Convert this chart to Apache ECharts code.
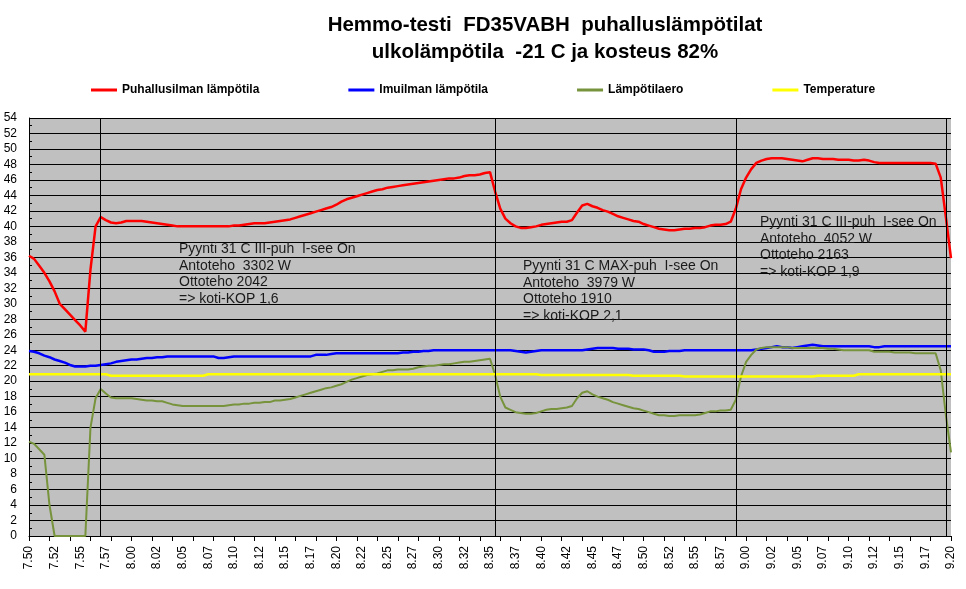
<!DOCTYPE html>
<html>
<head>
<meta charset="utf-8">
<script src="https://cdn.jsdelivr.net/npm/echarts@6/dist/echarts.min.js"></script>
<style>
  html, body { margin: 0; padding: 0; background: #fff; }
  #main { width: 966px; height: 589px; }
</style>
</head>
<body>
<div id="main"></div>
<script>
// x axis: one point every 30 s from 7.50 to 9.20
var tickLabels = ['7.50', '7.52', '7.55', '7.57', '8.00', '8.02', '8.05', '8.07', '8.10', '8.12',
    '8.15', '8.17', '8.20', '8.22', '8.25', '8.27', '8.30', '8.32', '8.35', '8.37',
    '8.40', '8.42', '8.45', '8.47', '8.50', '8.52', '8.55', '8.57', '9.00', '9.02',
    '9.05', '9.07', '9.10', '9.12', '9.15', '9.17', '9.20'];

var categories = [];
for (var i = 0; i < 181; i++) {
    var sec = 7 * 3600 + 50 * 60 + i * 30;
    var h = Math.floor(sec / 3600), m = Math.floor(sec / 60) % 60, s = sec % 60;
    categories.push(h + ':' + (m < 10 ? '0' : '') + m + ':' + (s ? '30' : '00'));
}

var puhallus = [
    36.2, 35.8, 34.9, 34.0, 32.9, 31.6, 30.0, 29.3, 28.6, 27.9,
    27.2, 26.4, 34.4, 40.0, 41.2, 40.8, 40.5, 40.4, 40.5, 40.7,
    40.7, 40.7, 40.7, 40.6, 40.5, 40.4, 40.3, 40.2, 40.1, 40.0,
    40.0, 40.0, 40.0, 40.0, 40.0, 40.0, 40.0, 40.0, 40.0, 40.0,
    40.1, 40.1, 40.2, 40.3, 40.4, 40.4, 40.4, 40.5, 40.6, 40.7,
    40.8, 40.9, 41.1, 41.3, 41.5, 41.7, 41.9, 42.1, 42.3, 42.5,
    42.8, 43.2, 43.5, 43.7, 43.9, 44.1, 44.3, 44.5, 44.7, 44.8,
    45.0, 45.1, 45.2, 45.3, 45.4, 45.5, 45.6, 45.7, 45.8, 45.9,
    46.0, 46.1, 46.2, 46.2, 46.3, 46.5, 46.6, 46.6, 46.7, 46.9,
    47.0, 44.5, 42.3, 41.0, 40.4, 40.0, 39.8, 39.8, 39.9, 40.0,
    40.2, 40.3, 40.4, 40.5, 40.6, 40.6, 40.8, 41.8, 42.7, 42.9,
    42.6, 42.4, 42.1, 41.9, 41.6, 41.3, 41.1, 40.9, 40.7, 40.6,
    40.3, 40.1, 39.9, 39.7, 39.6, 39.5, 39.5, 39.6, 39.7, 39.7,
    39.8, 39.8, 39.9, 40.1, 40.2, 40.2, 40.3, 40.6, 42.3, 44.8,
    46.3, 47.4, 48.2, 48.5, 48.7, 48.8, 48.8, 48.8, 48.7, 48.6,
    48.5, 48.4, 48.6, 48.8, 48.8, 48.7, 48.7, 48.7, 48.6, 48.6,
    48.6, 48.5, 48.5, 48.6, 48.5, 48.3, 48.2, 48.2, 48.2, 48.2,
    48.2, 48.2, 48.2, 48.2, 48.2, 48.2, 48.2, 48.1, 46.3, 41.2,
    35.9
];

var imuilma = [
    23.9, 23.8, 23.6, 23.3, 23.1, 22.8, 22.6, 22.4, 22.1, 21.9,
    21.9, 21.9, 22.0, 22.0, 22.1, 22.2, 22.3, 22.5, 22.6, 22.7,
    22.8, 22.8, 22.9, 23.0, 23.0, 23.1, 23.1, 23.2, 23.2, 23.2,
    23.2, 23.2, 23.2, 23.2, 23.2, 23.2, 23.2, 23.0, 23.0, 23.1,
    23.2, 23.2, 23.2, 23.2, 23.2, 23.2, 23.2, 23.2, 23.2, 23.2,
    23.2, 23.2, 23.2, 23.2, 23.2, 23.2, 23.4, 23.4, 23.4, 23.5,
    23.6, 23.6, 23.6, 23.6, 23.6, 23.6, 23.6, 23.6, 23.6, 23.6,
    23.6, 23.6, 23.6, 23.7, 23.7, 23.8, 23.8, 23.9, 23.9, 24.0,
    24.0, 24.0, 24.0, 24.0, 24.0, 24.0, 24.0, 24.0, 24.0, 24.0,
    24.0, 24.0, 24.0, 24.0, 24.0, 23.9, 23.8, 23.7, 23.8, 23.9,
    24.0, 24.0, 24.0, 24.0, 24.0, 24.0, 24.0, 24.0, 24.0, 24.1,
    24.2, 24.3, 24.3, 24.3, 24.3, 24.2, 24.2, 24.2, 24.1, 24.1,
    24.1, 24.0, 23.8, 23.8, 23.8, 23.9, 23.9, 23.9, 24.0, 24.0,
    24.0, 24.0, 24.0, 24.0, 24.0, 24.0, 24.0, 24.0, 24.0, 24.0,
    24.0, 24.0, 24.1, 24.2, 24.3, 24.4, 24.5, 24.4, 24.4, 24.3,
    24.4, 24.5, 24.6, 24.7, 24.6, 24.5, 24.5, 24.5, 24.5, 24.5,
    24.5, 24.5, 24.5, 24.5, 24.5, 24.4, 24.4, 24.5, 24.5, 24.5,
    24.5, 24.5, 24.5, 24.5, 24.5, 24.5, 24.5, 24.5, 24.5, 24.5,
    24.5
];

var lampotilaero = [
    12.2, 11.9, 11.2, 10.5, 4.0, 0, 0, 0, 0, 0,
    0, 0, 14.0, 17.8, 19.0, 18.4, 17.9, 17.8, 17.8, 17.8,
    17.8, 17.7, 17.6, 17.5, 17.5, 17.4, 17.4, 17.2, 17.0, 16.9,
    16.8, 16.8, 16.8, 16.8, 16.8, 16.8, 16.8, 16.8, 16.8, 16.9,
    17.0, 17.0, 17.1, 17.1, 17.2, 17.2, 17.3, 17.3, 17.5, 17.5,
    17.6, 17.7, 17.9, 18.1, 18.3, 18.5, 18.7, 18.9, 19.1, 19.2,
    19.4, 19.6, 19.9, 20.2, 20.4, 20.6, 20.8, 20.9, 21.0, 21.2,
    21.4, 21.4, 21.5, 21.5, 21.5, 21.6, 21.8, 21.9, 22.0, 22.0,
    22.1, 22.2, 22.2, 22.3, 22.4, 22.5, 22.5, 22.6, 22.7, 22.8,
    22.9, 20.8, 18.0, 16.6, 16.3, 16.0, 15.9, 15.8, 15.8, 15.9,
    16.1, 16.3, 16.4, 16.4, 16.5, 16.6, 16.8, 17.8, 18.5, 18.7,
    18.3, 18.0, 17.8, 17.6, 17.3, 17.1, 16.9, 16.7, 16.5, 16.4,
    16.2, 16.0, 15.8, 15.6, 15.6, 15.5, 15.5, 15.6, 15.6, 15.6,
    15.6, 15.7, 15.9, 16.1, 16.1, 16.2, 16.2, 16.3, 17.6, 20.6,
    22.5, 23.4, 24.1, 24.3, 24.4, 24.4, 24.4, 24.4, 24.4, 24.3,
    24.3, 24.3, 24.3, 24.3, 24.3, 24.3, 24.2, 24.2, 24.1, 24.0,
    24.0, 24.0, 24.0, 24.0, 24.0, 23.8, 23.8, 23.8, 23.8, 23.7,
    23.7, 23.7, 23.7, 23.6, 23.6, 23.6, 23.6, 23.6, 21.4, 15.6,
    10.8
];

var temperature = [
    20.9, 20.9, 20.9, 20.9, 20.9, 20.9, 20.9, 20.9, 20.9, 20.9,
    20.9, 20.9, 20.9, 20.9, 20.9, 20.9, 20.7, 20.7, 20.7, 20.7,
    20.7, 20.7, 20.7, 20.7, 20.7, 20.7, 20.7, 20.7, 20.7, 20.7,
    20.7, 20.7, 20.7, 20.7, 20.7, 20.9, 20.9, 20.9, 20.9, 20.9,
    20.9, 20.9, 20.9, 20.9, 20.9, 20.9, 20.9, 20.9, 20.9, 20.9,
    20.9, 20.9, 20.9, 20.9, 20.9, 20.9, 20.9, 20.9, 20.9, 20.9,
    20.9, 20.9, 20.9, 20.9, 20.9, 20.9, 20.9, 20.9, 20.9, 20.9,
    20.9, 20.9, 20.9, 20.9, 20.9, 20.9, 20.9, 20.9, 20.9, 20.9,
    20.9, 20.9, 20.9, 20.9, 20.9, 20.9, 20.9, 20.9, 20.9, 20.9,
    20.9, 20.9, 20.9, 20.9, 20.9, 20.9, 20.9, 20.9, 20.9, 20.9,
    20.8, 20.8, 20.8, 20.8, 20.8, 20.8, 20.8, 20.8, 20.8, 20.8,
    20.8, 20.8, 20.8, 20.8, 20.8, 20.8, 20.8, 20.8, 20.7, 20.7,
    20.7, 20.7, 20.7, 20.7, 20.7, 20.7, 20.7, 20.7, 20.6, 20.6,
    20.6, 20.6, 20.6, 20.6, 20.6, 20.6, 20.6, 20.6, 20.6, 20.6,
    20.6, 20.6, 20.6, 20.6, 20.6, 20.6, 20.6, 20.6, 20.6, 20.6,
    20.6, 20.6, 20.6, 20.6, 20.7, 20.7, 20.7, 20.7, 20.7, 20.7,
    20.7, 20.7, 20.9, 20.9, 20.9, 20.9, 20.9, 20.9, 20.9, 20.9,
    20.9, 20.9, 20.9, 20.9, 20.9, 20.9, 20.9, 20.9, 20.9, 20.9,
    20.9
];

// points where the settings were changed (vertical lines)
var markerIdx = [14, 91, 138, 179];

var notes = [
    ['Pyynti 31 C III-puh  I-see On', 'Antoteho  3302 W', 'Ottoteho 2042', '=> koti-KOP 1,6'],
    ['Pyynti 31 C MAX-puh  I-see On', 'Antoteho  3979 W', 'Ottoteho 1910', '=> koti-KOP 2,1'],
    ['Pyynti 31 C III-puh  I-see On', 'Antoteho  4052 W', 'Ottoteho 2163', '=> koti-KOP 1,9']
];
var notePos = [[179, 241], [523, 258], [760, 214]];

var myChart = echarts.init(document.getElementById('main'));

var font = 'Arial, "Liberation Sans", sans-serif';

function lineSeries(name, data, color, width) {
    return {
        name: name,
        type: 'line',
        data: data,
        showSymbol: false,
        symbol: 'none',
        lineStyle: { color: color, width: width },
        itemStyle: { color: color },
        z: 3
    };
}

var series = [
    lineSeries('Puhallusilman lämpötila', puhallus, '#FF0000', 2.5),
    lineSeries('Imuilman lämpötila', imuilma, '#0000FF', 2.5),
    lineSeries('Lämpötilaero', lampotilaero, '#77933C', 2),
    lineSeries('Temperature', temperature, '#FFFF00', 2.5)
];
series[0].markLine = {
    silent: true,
    symbol: 'none',
    label: { show: false },
    lineStyle: { color: '#000', width: 1, type: 'solid' },
    data: markerIdx.map(function(idx) {
        return { xAxis: categories[idx] };
    })
};

var graphics = [{
    type: 'text',
    x: 545,
    y: 12,
    style: {
        text: 'Hemmo-testi  FD35VABH  puhalluslämpötilat\nulkolämpötila  -21 C ja kosteus 82%',
        align: 'center',
        font: 'bold 20.5px ' + font,
        lineHeight: 27,
        fill: '#000'
    }
}];
for (var n = 0; n < notes.length; n++) {
    graphics.push({
        type: 'text',
        x: notePos[n][0],
        y: notePos[n][1],
        z: 10,
        style: {
            text: notes[n].join('\n'),
            font: '14px ' + font,
            lineHeight: 16.5,
            fill: '#1a1a1a'
        }
    });
}

var option = {
    animation: false,
    backgroundColor: '#fff',
    legend: {
        left: 91,
        top: 84,
        padding: 0,
        itemWidth: 26,
        itemHeight: 3,
        itemGap: 89,
        icon: 'rect',
        textStyle: { fontFamily: font, fontSize: 12, fontWeight: 'bold', color: '#000' },
        data: series.map(function(s) { return s.name; })
    },
    grid: {
        left: 29,
        right: 15,
        top: 118,
        bottom: 53,
        show: true,
        backgroundColor: '#C0C0C0',
        borderWidth: 0
    },
    xAxis: {
        type: 'category',
        data: categories,
        boundaryGap: false,
        axisLine: { lineStyle: { color: '#000', width: 1 } },
        axisTick: { interval: 3, length: 5, lineStyle: { color: '#000' } },
        axisLabel: {
            interval: 4,
            rotate: 90,
            margin: 10,
            fontFamily: font,
            fontSize: 12,
            color: '#000',
            formatter: function(value, index) {
                return tickLabels[index / 5];
            }
        },
        splitLine: { show: false }
    },
    yAxis: {
        type: 'value',
        min: 0,
        max: 54,
        interval: 2,
        axisLine: { show: true, lineStyle: { color: '#000', width: 1 } },
        axisTick: { show: true, inside: true, length: 4, lineStyle: { color: '#000' } },
        minorTick: { show: true, splitNumber: 2, length: 3, lineStyle: { color: '#000' } },
        splitLine: { show: true, lineStyle: { color: '#000', width: 1 } },
        axisLabel: { margin: 12, fontFamily: font, fontSize: 12, color: '#000' }
    },
    graphic: graphics,
    series: series
};

myChart.setOption(option);
</script>
</body>
</html>
